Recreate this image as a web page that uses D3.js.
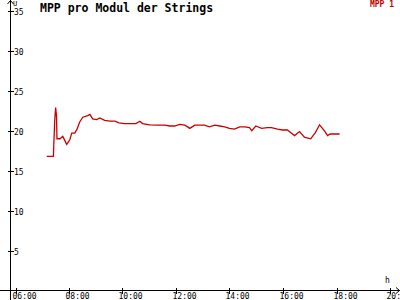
<!DOCTYPE html>
<html>
<head>
<meta charset="utf-8">
<script src="https://cdn.jsdelivr.net/npm/d3@7"></script>
<style>
  html, body { margin: 0; padding: 0; background: #fff; }
  #root { width: 400px; height: 300px; }
  text { font-family: "DejaVu Sans Mono", monospace; }
</style>
</head>
<body>
<div id="root"></div>
<script>
const root = document.getElementById('root');

// Data
const times = ['07:10','07:25','07:26','07:28','07:30','07:32','07:33','07:40','07:46','07:55','08:02','08:06','08:13','08:18','08:24','08:31','08:42','08:47','08:53','09:02','09:09','09:20','09:32','09:43','09:52','10:05','10:21','10:30','10:39','10:45','11:01','11:19','11:35','11:46','11:57','12:08','12:20','12:31','12:42','12:53','13:04','13:15','13:27','13:38','13:49','14:00','14:11','14:23','14:34','14:45','14:50','14:59','15:12','15:25','15:34','15:48','15:59','16:10','16:19','16:26','16:37','16:48','17:02','17:13','17:22','17:33','17:40','17:46','18:07'];
const mpp1 = [16.8,16.8,18.4,21.3,22.9,21.8,19.0,19.0,19.3,18.3,18.9,19.7,19.7,20.2,21.1,21.7,21.9,22.05,21.5,21.4,21.6,21.3,21.2,21.2,21.0,20.9,20.9,20.9,21.2,20.9,20.75,20.7,20.7,20.6,20.6,20.8,20.7,20.3,20.7,20.7,20.7,20.5,20.7,20.6,20.5,20.3,20.2,20.5,20.5,20.4,20.0,20.6,20.3,20.4,20.4,20.2,20.1,20.1,19.7,19.4,19.9,19.2,19.0,19.8,20.75,20.0,19.4,19.6,19.6];
const xTicks = ['06:00','08:00','10:00','12:00','14:00','16:00','18:00','20:00'];
const yTicks = [5, 10, 15, 20, 25, 30, 35];
const title = 'MPP pro Modul der Strings';
const seriesName = 'MPP 1';

const buildGraph = () => {
    const width = 400;
    const height = 300;
    const axisX = 10.5;   // y axis position
    const axisY = 290.5;  // x axis position

    const parseTime = d3.timeParse('%H:%M');
    const data = times.map((t, i) => ({ t: parseTime(t), v: mpp1[i] }));

    const svg = d3.select(root)
                    .append('svg')
                    .attr('width', width)
                    .attr('height', height)
                    .style('display', 'block');

    const xScale = d3.scaleTime()
                        .domain([parseTime('06:00'), parseTime('20:00')])
                        .range([15.5, 390]);
    const yScale = d3.scaleLinear()
                        .domain([0, 35])
                        .range([axisY, 11]);

    // Axis lines
    svg.append('line')
        .attr('x1', axisX).attr('x2', axisX)
        .attr('y1', 0).attr('y2', height)
        .attr('stroke', '#000').attr('shape-rendering', 'crispEdges');
    svg.append('line')
        .attr('x1', 0).attr('x2', width)
        .attr('y1', axisY).attr('y2', axisY)
        .attr('stroke', '#000').attr('shape-rendering', 'crispEdges');

    // Arrows
    svg.append('path')
        .attr('d', `M${axisX - 3},${4} L${axisX},${0.5} L${axisX + 3},${4}`)
        .attr('fill', 'none').attr('stroke', '#000');
    svg.append('path')
        .attr('d', `M${width - 4},${axisY - 3} L${width - 0.5},${axisY} L${width - 4},${axisY + 3}`)
        .attr('fill', 'none').attr('stroke', '#000');

    // X ticks
    const xg = svg.append('g');
    xTicks.forEach(s => {
        const x = Math.round(xScale(parseTime(s))) + 0.5;
        xg.append('line')
            .attr('x1', x).attr('x2', x)
            .attr('y1', axisY - 3).attr('y2', axisY + 3)
            .attr('stroke', '#000').attr('shape-rendering', 'crispEdges');
        xg.append('text')
            .attr('x', x - 4)
            .attr('y', 299)
            .attr('font-size', 8)
            .attr('fill', '#000')
            .text(s);
    });

    // Y ticks
    const yg = svg.append('g');
    yTicks.forEach(v => {
        const y = Math.round(yScale(v)) + 0.5;
        yg.append('line')
            .attr('x1', axisX - 3).attr('x2', axisX + 3)
            .attr('y1', y).attr('y2', y)
            .attr('stroke', '#000').attr('shape-rendering', 'crispEdges');
        yg.append('text')
            .attr('x', 14)
            .attr('y', y + 3)
            .attr('font-size', 8)
            .attr('fill', '#000')
            .text(v);
    });

    // Unit labels
    svg.append('text').attr('x', 13).attr('y', 6).attr('font-size', 7).text('U');
    svg.append('text').attr('x', 385).attr('y', 283).attr('font-size', 8).text('h');

    // Title and legend
    svg.append('text')
        .attr('x', 40).attr('y', 12)
        .attr('font-size', 11.5)
        .attr('font-weight', 'bold')
        .text(title);
    svg.append('text')
        .attr('x', 394).attr('y', 7)
        .attr('text-anchor', 'end')
        .attr('font-size', 8)
        .attr('font-weight', 'bold')
        .attr('fill', '#c00000')
        .text(seriesName);

    // Series line
    const line = d3.line()
                    .x(d => xScale(d.t))
                    .y(d => yScale(d.v));
    svg.append('path')
        .datum(data)
        .attr('d', line)
        .attr('fill', 'none')
        .attr('stroke', '#c80000')
        .attr('stroke-width', 1.3);
}

buildGraph();
</script>
</body>
</html>
